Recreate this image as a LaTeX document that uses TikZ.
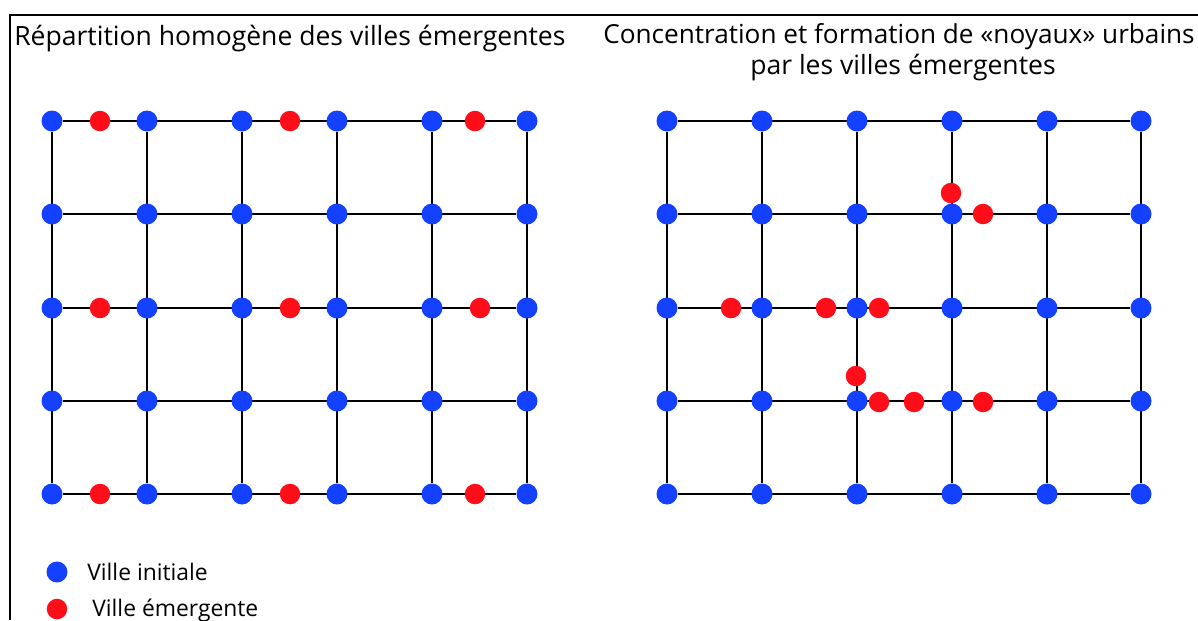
\documentclass[tikz,border=0pt]{standalone}
\usepackage{fontspec}
\setmainfont{Open Sans}
\usepackage{xcolor}
\usepackage{tikz}
\usetikzlibrary{backgrounds}
\definecolor{bleu}{RGB}{20,64,255}
\definecolor{rouge}{RGB}{255,14,26}
\tikzset{
  ini/.style={circle,fill=bleu,inner sep=0pt,minimum size=4.2mm},
  emg/.style={circle,fill=rouge,inner sep=0pt,minimum size=4.1mm},
  rue/.style={line width=1.6pt},
  cadre/.style={line width=0.6pt},
  titre/.style={font=\fontsize{15.1}{18}\selectfont,inner sep=0pt},
  leg/.style={font=\fontsize{13}{15}\selectfont,inner sep=0pt,anchor=base west}
}
\begin{document}
\begin{tikzpicture}[x=0.02cm,y=-0.02cm]
\useasboundingbox (0,0) rectangle (1198,620);
\draw[cadre] (10,620) |- (1198,15);
% titres
\node[titre,anchor=base west] (t1) at (14,45) {Répartition homogène des villes émergentes};
\node[titre,anchor=base,font=\fontsize{14.9}{18}\selectfont] (t2) at (899,43) {Concentration et formation de «noyaux» urbains};
\node[titre,anchor=base] (t3) at (903,74) {par les villes émergentes};
% villes initiales
\foreach \x [count=\c] in {52,147,242,337,432,527}
  \foreach \y [count=\r] in {121,214,308,401,494}
    \node[ini] (a\c\r) at (\x,\y) {};
\foreach \x [count=\c] in {667,762,857,952,1047,1141}
  \foreach \y [count=\r] in {121,214,308,401,494}
    \node[ini] (b\c\r) at (\x,\y) {};
% villes emergentes
\foreach \x/\y [count=\i] in {100/121,290/121,475/121,100/308,290/308,480/308,100/494,290/494,475/494}
  \node[emg] (ea\i) at (\x,\y) {};
\foreach \x/\y [count=\i] in {951/193,983/214,731/308,826/308,879/308,856/376,879/402,914/402,983/402}
  \node[emg] (eb\i) at (\x,\y) {};
% routes
\begin{scope}[on background layer]
\foreach \g in {a,b}{
  \foreach \r in {1,...,5} \draw[rue] (\g1\r) -- (\g6\r);
  \foreach \c in {1,...,6} \draw[rue] (\g\c1) -- (\g\c5);
}
\end{scope}
% legende
\node[ini] (li) at (57,572) {};
\node[emg] (le) at (57,609) {};
\node[leg] (lit) at (87,580) {Ville initiale};
\node[leg] (let) at (92,616) {Ville émergente};
\end{tikzpicture}
\end{document}
